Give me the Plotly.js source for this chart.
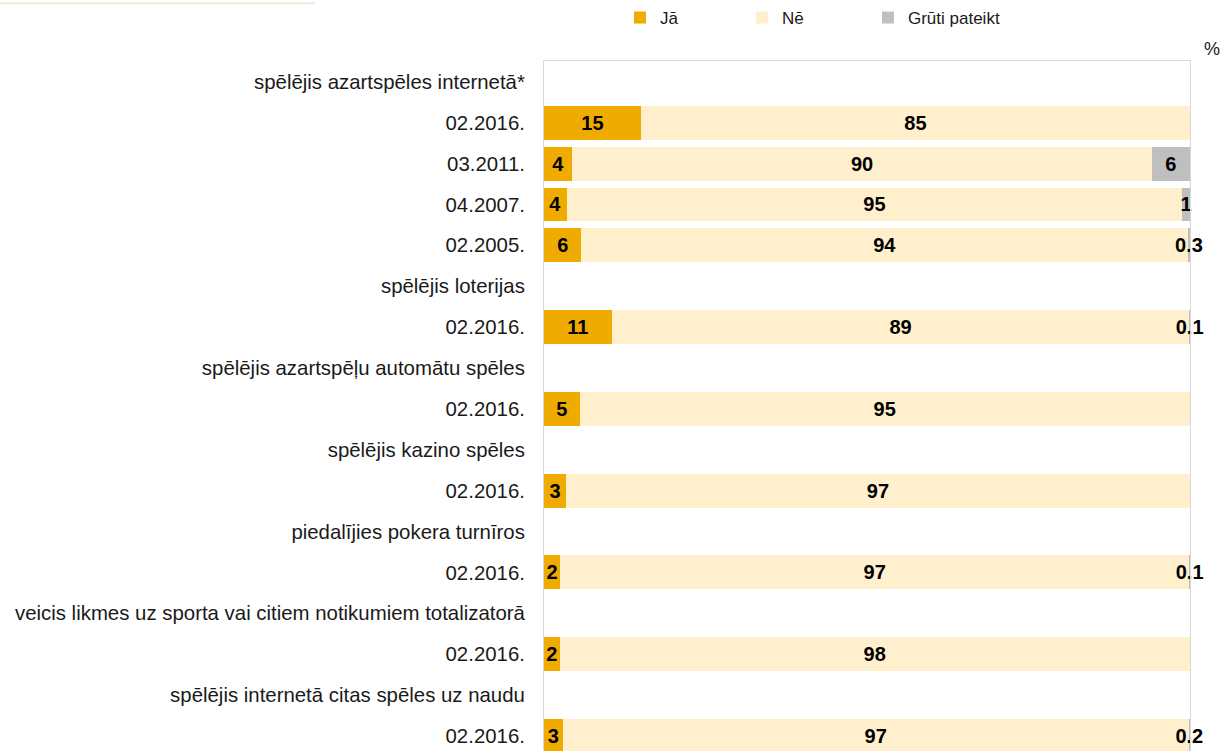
<!DOCTYPE html>
<html>
<head>
<meta charset="utf-8">
<script src="https://cdn.plot.ly/plotly-3.0.1.min.js"></script>
<style>
  html, body { margin: 0; padding: 0; background: #ffffff; }
  #chart { width: 1223px; height: 751px; }
</style>
</head>
<body>
<div id="chart"></div>
<script>
// Row labels (group headers and survey waves), top to bottom
const rowLabels = [
  "spēlējis azartspēles internetā*",
  "02.2016.", "03.2011.", "04.2007.", "02.2005.",
  "spēlējis loterijas",
  "02.2016.",
  "spēlējis azartspēļu automātu spēles",
  "02.2016.",
  "spēlējis kazino spēles",
  "02.2016.",
  "piedalījies pokera turnīros",
  "02.2016.",
  "veicis likmes uz sporta vai citiem notikumiem totalizatorā",
  "02.2016.",
  "spēlējis internetā citas spēles uz naudu",
  "02.2016."
];

// Bar lengths (%)
const jaValues    = [null, 15, 4.4, 3.5, 5.8, null, 10.5, null, 5.5, null, 3.4, null, 2.5, null, 2.4, null, 2.9];
const neValues    = [null, 85, 89.7, 95.3, 93.9, null, 89.4, null, 94.5, null, 96.6, null, 97.4, null, 97.6, null, 96.9];
const grutiValues = [null, null, 5.9, 1.2, 0.3, null, 0.1, null, null, null, null, null, 0.1, null, null, null, 0.2];

// Printed data labels
const jaLabels    = ["", "15", "4", "4", "6", "", "11", "", "5", "", "3", "", "2", "", "2", "", "3"];
const neLabels    = ["", "85", "90", "95", "94", "", "89", "", "95", "", "97", "", "97", "", "98", "", "97"];
const grutiLabels = ["", "", "6", "1", "0.3", "", "0.1", "", "", "", "", "", "0.1", "", "", "", "0.2"];

const seriesNames = ["Jā", "Nē", "Grūti pateikt"];
const colors = ["#f0ab00", "#ffefcc", "#bfbfbf"];

const rowPos = rowLabels.map((_, i) => i);
const FONT = "Liberation Sans, Arial, sans-serif";

function barTrace(name, values, labels, color, legendId) {
  return {
    type: "bar",
    orientation: "h",
    name: name,
    legend: legendId,
    x: values,
    y: rowPos,
    text: labels,
    texttemplate: "%{text}",
    textposition: "inside",
    insidetextanchor: "middle",
    constraintext: "none",
    textangle: 0,
    cliponaxis: false,
    textfont: { family: FONT, size: 20, color: "#000000", weight: "bold" },
    marker: { color: color, line: { width: 0 } },
    width: 0.83,
    hoverinfo: "skip"
  };
}

const data = [
  barTrace(seriesNames[0], jaValues, jaLabels, colors[0], "legend"),
  barTrace(seriesNames[1], neValues, neLabels, colors[1], "legend2"),
  barTrace(seriesNames[2], grutiValues, grutiLabels, colors[2], "legend3")
];

function legendAt(x) {
  return {
    orientation: "h",
    x: x, xanchor: "left",
    y: 1.063, yanchor: "middle",
    itemwidth: 30,
    font: { family: FONT, size: 17, color: "#1a1a1a" },
    bgcolor: "rgba(0,0,0,0)"
  };
}

const layout = {
  width: 1223,
  height: 751,
  margin: { l: 544, r: 33, t: 59, b: 0, pad: 0 },
  paper_bgcolor: "#ffffff",
  plot_bgcolor: "#ffffff",
  barmode: "stack",
  bargap: 0,
  font: { family: FONT, size: 17, color: "#1a1a1a" },
  showlegend: true,
  legend: legendAt(0.1176),
  legend2: legendAt(0.3065),
  legend3: legendAt(0.5015),
  xaxis: {
    range: [0, 100.01],
    side: "top",
    showline: true,
    linecolor: "#d9d9d9",
    linewidth: 1,
    mirror: false,
    showgrid: false,
    zeroline: false,
    showticklabels: false,
    ticks: "",
    fixedrange: true
  },
  yaxis: {
    range: [16.37, -0.51],
    tickmode: "array",
    tickvals: rowPos,
    ticktext: rowLabels,
    showline: true,
    mirror: true,
    linecolor: "#d9d9d9",
    linewidth: 1,
    showgrid: false,
    zeroline: false,
    ticks: "",
    ticklabelstandoff: 14,
    tickfont: { family: FONT, size: 20.4, color: "#1a1a1a" },
    fixedrange: true
  },
  annotations: [
    {
      text: "%",
      xref: "paper", yref: "paper",
      x: 1.034, y: 1.017,
      xanchor: "center", yanchor: "middle",
      showarrow: false,
      font: { family: FONT, size: 18, color: "#1a1a1a" }
    }
  ],
  shapes: [
    {
      type: "rect",
      xref: "paper", yref: "paper",
      x0: -544 / 646, x1: (315 - 544) / 646,
      y0: 1 + 57 / 692, y1: 1 + 59 / 692,
      fillcolor: "#e2f0d9",
      line: { width: 0 },
      layer: "above"
    }
  ]
};

Plotly.newPlot("chart", data, layout, { displayModeBar: false, staticPlot: true });
</script>
</body>
</html>
